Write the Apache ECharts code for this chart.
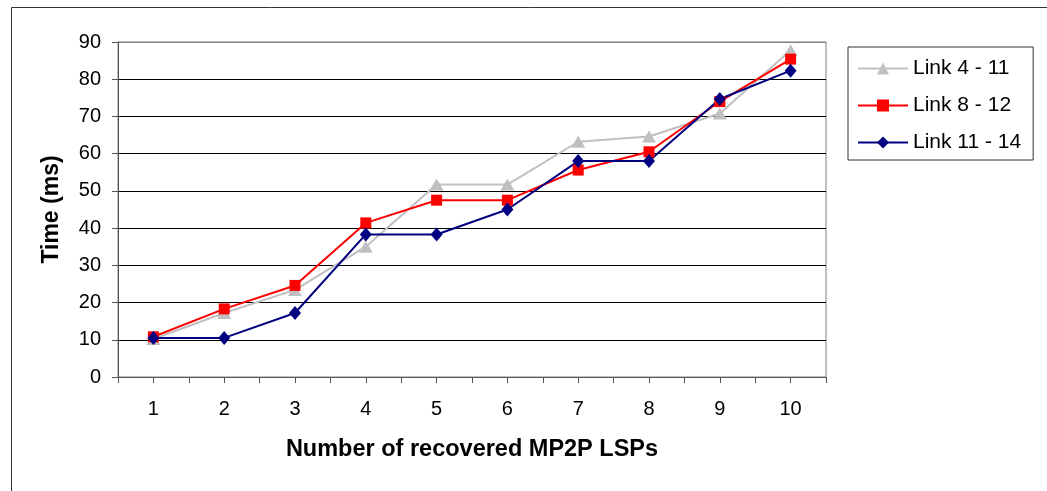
<!DOCTYPE html>
<html>
<head>
<meta charset="utf-8">
<script src="https://cdn.jsdelivr.net/npm/echarts@6/dist/echarts.min.js"></script>
<style>html,body{margin:0;padding:0;background:#fff}#c{width:1047px;height:491px}</style>
</head>
<body>
<div id="c"></div>
<script>
const categories = ['1','2','3','4','5','6','7','8','9','10'];
const link4_11 = [10.2, 17.2, 23.4, 35.0, 51.7, 51.7, 63.2, 64.6, 70.8, 87.8];
const link8_12 = [10.8, 18.3, 24.6, 41.4, 47.5, 47.5, 55.6, 60.5, 74.0, 85.4];
const link11_14 = [10.5, 10.5, 17.2, 38.3, 38.3, 45.0, 58.0, 58.0, 74.7, 82.3];
const seriesNames = ['Link 4 - 11', 'Link 8 - 12', 'Link 11 - 14'];
const yTicks = {min: 0, max: 90, interval: 10};

const FONT = 'Liberation Sans, Arial, sans-serif';
const chart = echarts.init(document.getElementById('c'));
chart.setOption({
  animation: false,
  backgroundColor: '#fff',
  textStyle: {fontFamily: FONT},
  graphic: [{
    type: 'rect', left: 9, top: 5, z: -10, silent: true,
    shape: {width: 1100, height: 600},
    style: {fill: 'none', stroke: '#333', lineWidth: 1}
  }],
  grid: {left: 118, top: 42, right: 221, bottom: 114, show: true,
         borderColor: '#808080', borderWidth: 1, backgroundColor: 'transparent'},
  legend: {
    orient: 'vertical', left: 848, top: 47,
    padding: [11, 12, 7, 9], itemGap: 16,
    itemWidth: 50, itemHeight: 15,
    borderColor: '#333', borderWidth: 1,
    textStyle: {fontFamily: FONT, fontSize: 21, color: '#000', padding: [0,0,0,0]},
    data: seriesNames
  },
  xAxis: [{
    type: 'category', data: categories, boundaryGap: true,
    name: 'Number of recovered MP2P LSPs', nameLocation: 'middle', nameGap: 61,
    nameTextStyle: {fontFamily: FONT, fontSize: 23.5, fontWeight: 'bold', color: '#000'},
    axisLine: {lineStyle: {color: '#555', width: 1}},
    axisTick: {show: true, length: 6, alignWithLabel: false, lineStyle: {color: '#555'}},
    axisLabel: {fontFamily: FONT, fontSize: 20, color: '#000', margin: 22},
    splitLine: {show: false}
  }, {
    type: 'category', data: categories, boundaryGap: true, position: 'bottom',
    axisLine: {show: false},
    axisTick: {show: true, length: 6, alignWithLabel: true, lineStyle: {color: '#555'}},
    axisLabel: {show: false},
    splitLine: {show: false}
  }],
  yAxis: {
    type: 'value', min: yTicks.min, max: yTicks.max, interval: yTicks.interval,
    name: 'Time (ms)', nameLocation: 'middle', nameGap: 55, nameRotate: 90,
    nameTextStyle: {fontFamily: FONT, fontSize: 23, fontWeight: 'bold', color: '#000'},
    axisLine: {show: true, lineStyle: {color: '#555', width: 1}},
    axisTick: {show: true, length: 6, inside: false, lineStyle: {color: '#555'}},
    axisLabel: {fontFamily: FONT, fontSize: 20, color: '#000', margin: 17},
    splitLine: {show: true, lineStyle: {color: ['#000','#000','#000','#000','#000','#000','#000','#000','#000','#808080'], width: 1}}
  },
  series: [{
    name: seriesNames[0], type: 'line', data: link4_11,
    symbol: 'triangle', symbolSize: [14, 12],
    itemStyle: {color: '#C0C0C0'}, lineStyle: {color: '#C0C0C0', width: 2}
  }, {
    name: seriesNames[1], type: 'line', data: link8_12,
    symbol: 'rect', symbolSize: 11,
    itemStyle: {color: '#FF0000'}, lineStyle: {color: '#FF0000', width: 2}
  }, {
    name: seriesNames[2], type: 'line', data: link11_14,
    symbol: 'diamond', symbolSize: [12, 14],
    itemStyle: {color: '#000080'}, lineStyle: {color: '#000080', width: 2}
  }]
});
</script>
</body>
</html>
